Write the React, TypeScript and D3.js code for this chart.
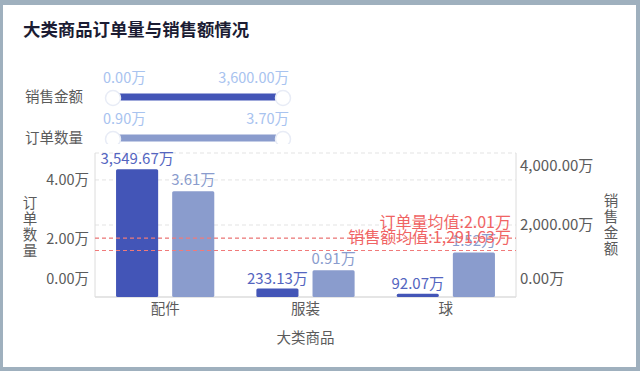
import React from "react"
import * as d3 from "d3"

// data
const categories = ["配件", "服装", "球"]
const salesValues = [3549.67, 233.13, 92.07] // 万
const orderValues = [3.61, 0.91, 1.52] // 万
const salesTicks = [0, 2000, 4000]
const orderTicks = [0, 2, 4]
const salesMean = 1291.63
const orderMean = 2.01
const salesSlider = [0, 3600]
const orderSlider = [0.9, 3.7]

const W = 640
const H = 371
const FONT = "'Noto Sans CJK SC', 'Noto Sans', sans-serif"
const DARK = "#4355b7"
const LIGHT = "#8a9ccd"
const AXIS_TEXT = "#5b5b5b"

const fmt = (v: number) => d3.format(",.2f")(v) + "万"

export default function App() {
  const left = 95, right = 516, top = 153, bottom = 297

  const x0 = d3.scaleBand().domain(categories).range([left, right]).paddingInner(0.3).paddingOuter(0.15)
  const x1 = d3.scaleBand().domain(["sales", "orders"]).range([0, x0.bandwidth()]).paddingInner(0.25)
  const ySales = d3.scaleLinear().domain([0, 4000]).range([bottom, top])
  const yOrders = d3.scaleLinear().domain([0, 4.92]).range([bottom, top])

  // G2-ish label squeezing: keep tick labels inside the plot
  const labelY = (y: number) => Math.max(top + 13, Math.min(bottom - 18, y))

  const sliderScale = d3.scaleLinear().domain([0, 1]).range([118, 276])

  const slider = (name: string, vals: number[], color: string, cy: number, clip?: string) => (
    <g>
      <text x={25} y={cy} dy="0.35em" fontSize={14.5} fill={AXIS_TEXT}>{name}</text>
      <text x={103} y={cy - 19} dy="0.35em" fontSize={14.5} fill="#a8c3ef">{fmt(vals[0])}</text>
      <text x={289} y={cy - 19} dy="0.35em" fontSize={14.5} fill="#a8c3ef" textAnchor="end">{fmt(vals[1])}</text>
      <g clipPath={clip}>
        <rect x={sliderScale(0)} y={cy - 3.5} width={sliderScale(1) - sliderScale(0)} height={7} fill={color} />
        <circle cx={113} cy={cy + 1} r={7.5} fill="#fff" stroke="#e8ecf6" strokeWidth={1.5} />
        <circle cx={283} cy={cy + 1} r={7.5} fill="#fff" stroke="#e8ecf6" strokeWidth={1.5} />
      </g>
    </g>
  )

  return (
    <svg width={W} height={H} style={{ position: "absolute", left: 0, top: 0, fontFamily: FONT }}>
      <defs>
        <clipPath id="clip2">
          <rect x={0} y={100} width={W} height={44} />
        </clipPath>
      </defs>
      <rect x={0} y={0} width={W} height={H} fill="#9fb0be" />
      <rect x={3} y={5} width={633} height={362} fill="#fff" />

      <text x={23} y={30} dy="0.35em" fontSize={17.4} fontWeight="bold" fill="#1b1c33">大类商品订单量与销售额情况</text>

      {slider("销售金额", salesSlider, DARK, 97)}
      {slider("订单数量", orderSlider, LIGHT, 138, "url(#clip2)")}

      {/* grid */}
      {salesTicks.filter(t => t > 0).map(t => (
        <line key={"gs" + t} x1={left} x2={right} y1={ySales(t)} y2={ySales(t)} stroke="#e3e3e3" strokeDasharray="4,3" />
      ))}
      {orderTicks.filter(t => t > 0).map(t => (
        <line key={"go" + t} x1={left} x2={right} y1={yOrders(t)} y2={yOrders(t)} stroke="#e3e3e3" strokeDasharray="4,3" />
      ))}

      {/* axes lines */}
      <line x1={left} x2={left} y1={top} y2={bottom} stroke="#dcdcdc" />
      <line x1={right} x2={right} y1={top} y2={bottom} stroke="#dcdcdc" />
      <line x1={left} x2={right} y1={bottom} y2={bottom} stroke="#dcdcdc" strokeWidth={1.5} />

      {/* left ticks */}
      {orderTicks.map(t => (
        <text key={"lo" + t} x={89} y={labelY(yOrders(t))} dy="0.35em" fontSize={14.5} fill={AXIS_TEXT} textAnchor="end">{fmt(t)}</text>
      ))}
      {/* right ticks */}
      {salesTicks.map(t => (
        <text key={"rs" + t} x={520} y={labelY(ySales(t))} dy="0.35em" fontSize={15} fill={AXIS_TEXT}>{fmt(t)}</text>
      ))}

      {/* axis titles */}
      {"订单数量".split("").map((c, i) => (
        <text key={"lt" + i} x={30} y={203 + i * 16} dy="0.35em" fontSize={14.5} fill={AXIS_TEXT} textAnchor="middle">{c}</text>
      ))}
      {"销售金额".split("").map((c, i) => (
        <text key={"rt" + i} x={611} y={201 + i * 16} dy="0.35em" fontSize={14.5} fill={AXIS_TEXT} textAnchor="middle">{c}</text>
      ))}
      <text x={(left + right) / 2} y={338} dy="0.35em" fontSize={14.5} fill={AXIS_TEXT} textAnchor="middle">大类商品</text>

      {/* category labels */}
      {categories.map(c => (
        <text key={"c" + c} x={(x0(c) || 0) + x0.bandwidth() / 2} y={309} dy="0.35em" fontSize={14.5} fill={AXIS_TEXT} textAnchor="middle">{c}</text>
      ))}

      {/* bars */}
      {categories.map((c, i) => {
        const bx = x0(c) || 0
        const sx = bx + (x1("sales") || 0)
        const ox = bx + (x1("orders") || 0)
        const bw = x1.bandwidth()
        return (
          <g key={"b" + c}>
            <rect x={sx} y={ySales(salesValues[i])} width={bw} height={bottom - ySales(salesValues[i])} fill={DARK} rx={1.5} />
            <rect x={ox} y={yOrders(orderValues[i])} width={bw} height={bottom - yOrders(orderValues[i])} fill={LIGHT} rx={1.5} />
            <text x={sx + bw / 2} y={ySales(salesValues[i]) - 10} dy="0.35em" fontSize={15} fill="#5465c0" textAnchor="middle">{fmt(salesValues[i])}</text>
            <text x={ox + bw / 2} y={yOrders(orderValues[i]) - 12} dy="0.35em" fontSize={15} fill={LIGHT} textAnchor="middle">{fmt(orderValues[i])}</text>
          </g>
        )
      })}

      {/* mean lines */}
      <line x1={left} x2={right} y1={yOrders(orderMean)} y2={yOrders(orderMean)} stroke="#f07a7a" strokeDasharray="4,3" strokeWidth={1.2} />
      <line x1={left} x2={right} y1={ySales(salesMean)} y2={ySales(salesMean)} stroke="#f07a7a" strokeDasharray="4,3" strokeWidth={1.2} />
      <text x={511} y={yOrders(orderMean) - 16} dy="0.35em" fontSize={16} fill="#f06464" textAnchor="end">订单量均值:{fmt(orderMean)}</text>
      <text x={511} y={ySales(salesMean) - 13} dy="0.35em" fontSize={16} fill="#f06464" textAnchor="end">销售额均值:{fmt(salesMean)}</text>
    </svg>
  )
}
